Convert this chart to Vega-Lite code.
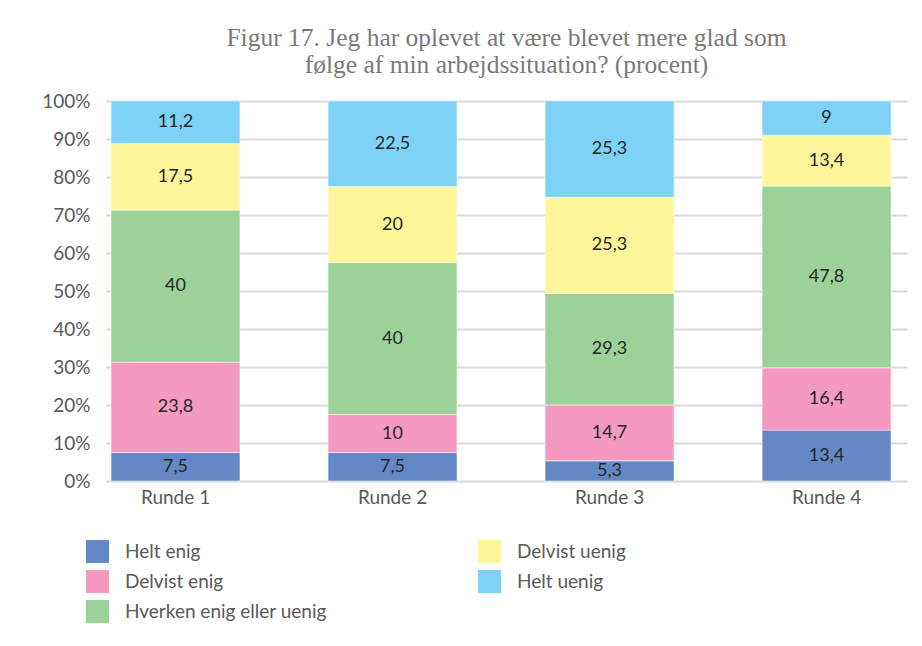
{
  "$schema": "https://vega.github.io/schema/vega-lite/v6.json",
  "width": 801,
  "height": 380,
  "autosize": {"type": "none"},
  "padding": {"left": 106, "top": 101, "right": 15, "bottom": 165},
  "background": "white",
  "title": {
    "text": ["Figur 17. Jeg har oplevet at være blevet mere glad som", "følge af min arbejdssituation? (procent)"],
    "font": "Liberation Serif",
    "fontSize": 25.5,
    "fontWeight": "normal",
    "color": "#7a7a7a",
    "lineHeight": 27,
    "offset": 14,
    "anchor": "middle"
  },
  "data": {
    "values": [
      {"runde": "Runde 1", "svar": "Helt enig", "k": 1, "pct": 7.5},
      {"runde": "Runde 1", "svar": "Delvist enig", "k": 2, "pct": 23.8},
      {"runde": "Runde 1", "svar": "Hverken enig eller uenig", "k": 3, "pct": 40},
      {"runde": "Runde 1", "svar": "Delvist uenig", "k": 4, "pct": 17.5},
      {"runde": "Runde 1", "svar": "Helt uenig", "k": 5, "pct": 11.2},
      {"runde": "Runde 2", "svar": "Helt enig", "k": 1, "pct": 7.5},
      {"runde": "Runde 2", "svar": "Delvist enig", "k": 2, "pct": 10},
      {"runde": "Runde 2", "svar": "Hverken enig eller uenig", "k": 3, "pct": 40},
      {"runde": "Runde 2", "svar": "Delvist uenig", "k": 4, "pct": 20},
      {"runde": "Runde 2", "svar": "Helt uenig", "k": 5, "pct": 22.5},
      {"runde": "Runde 3", "svar": "Helt enig", "k": 1, "pct": 5.3},
      {"runde": "Runde 3", "svar": "Delvist enig", "k": 2, "pct": 14.7},
      {"runde": "Runde 3", "svar": "Hverken enig eller uenig", "k": 3, "pct": 29.3},
      {"runde": "Runde 3", "svar": "Delvist uenig", "k": 4, "pct": 25.3},
      {"runde": "Runde 3", "svar": "Helt uenig", "k": 5, "pct": 25.3},
      {"runde": "Runde 4", "svar": "Helt enig", "k": 1, "pct": 13.4},
      {"runde": "Runde 4", "svar": "Delvist enig", "k": 2, "pct": 16.4},
      {"runde": "Runde 4", "svar": "Hverken enig eller uenig", "k": 3, "pct": 47.8},
      {"runde": "Runde 4", "svar": "Delvist uenig", "k": 4, "pct": 13.4},
      {"runde": "Runde 4", "svar": "Helt uenig", "k": 5, "pct": 9}
    ]
  },
  "encoding": {
    "x": {
      "field": "runde",
      "type": "nominal",
      "scale": {"paddingInner": 0.406, "paddingOuter": 0.0485, "align": 0.24},
      "axis": {
        "title": null,
        "labelAngle": 0,
        "labelFont": "Lato",
        "labelFontSize": 19,
        "labelColor": "#595959",
        "labelPadding": 7,
        "ticks": false,
        "domain": false
      }
    },
    "y": {
      "field": "pct",
      "type": "quantitative",
      "stack": "normalize",
      "scale": {"domain": [0, 1]},
      "axis": {
        "title": null,
        "format": ".0%",
        "values": [0, 0.1, 0.2, 0.3, 0.4, 0.5, 0.6, 0.7, 0.8, 0.9, 1],
        "labelFont": "Lato",
        "labelFontSize": 19,
        "labelColor": "#595959",
        "labelPadding": 16,
        "ticks": false,
        "domain": false,
        "grid": true,
        "gridColor": "#d9d9d9",
        "gridWidth": 2
      }
    },
    "order": {"field": "k", "type": "quantitative", "sort": "ascending"}
  },
  "layer": [
    {
      "mark": {"type": "bar", "stroke": "white", "strokeWidth": 0.5},
      "encoding": {
        "color": {
          "field": "svar",
          "type": "nominal",
          "scale": {
            "domain": ["Helt enig", "Delvist enig", "Hverken enig eller uenig", "Delvist uenig", "Helt uenig"],
            "range": ["#6488c6", "#f49ac1", "#9dd19a", "#fff59b", "#7dd2f6"]
          },
          "legend": {
            "title": null,
            "orient": "none",
            "legendX": -20,
            "legendY": 439,
            "columns": 2,
            "symbolType": "square",
            "symbolSize": 529,
            "symbolStrokeWidth": 0,
            "symbolOpacity": 1,
            "labelFont": "Lato",
            "labelFontSize": 19,
            "labelColor": "#595959",
            "labelOffset": 16,
            "rowPadding": 7,
            "columnPadding": 151,
            "padding": 0,
            "labelLimit": 400
          }
        }
      }
    },
    {
      "mark": {"type": "text", "font": "Lato", "fontSize": 18, "color": "#262626", "baseline": "middle"},
      "encoding": {
        "y": {"field": "pct", "type": "quantitative", "stack": "normalize", "bandPosition": 0.5},
        "text": {"field": "pct", "type": "quantitative", "format": ",.1~f", "formatType": "number"}
      }
    }
  ],
  "config": {
    "view": {"stroke": null},
    "locale": {"number": {"decimal": ",", "thousands": ".", "grouping": [3], "currency": ["", " kr."]}}
  }
}
